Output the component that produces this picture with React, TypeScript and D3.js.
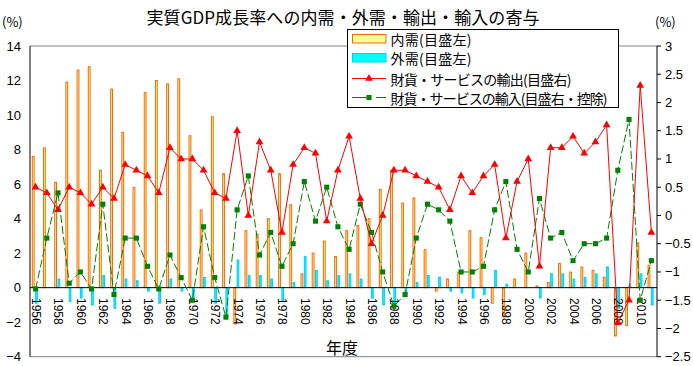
import React from 'react';
import * as d3 from 'd3';

const years = [
  1956, 1957, 1958, 1959, 1960, 1961, 1962, 1963, 1964, 1965,
  1966, 1967, 1968, 1969, 1970, 1971, 1972, 1973, 1974, 1975,
  1976, 1977, 1978, 1979, 1980, 1981, 1982, 1983, 1984, 1985,
  1986, 1987, 1988, 1989, 1990, 1991, 1992, 1993, 1994, 1995,
  1996, 1997, 1998, 1999, 2000, 2001, 2002, 2003, 2004, 2005,
  2006, 2007, 2008, 2009, 2010, 2011,
];

// 内需 (left axis)
const domestic = [
  7.6, 8.1, 6.1, 11.9, 12.6, 12.8, 6.8, 11.5, 9.0, 5.8,
  11.3, 12.0, 11.8, 12.1, 8.8, 4.5, 9.9, 6.6, -2.1, 3.3,
  3.1, 4.0, 6.6, 4.8, 0.8, 2.0, 2.7, 1.8, 3.3, 3.6,
  4.0, 5.7, 6.8, 4.9, 5.2, 2.2, -0.2, 0.5, 0.9, 3.3,
  2.9, -0.9, -1.7, 0.5, 2.0, 0.1, 0.3, 1.4, 0.9, 1.2,
  1.0, 0.6, -2.8, -2.2, 2.6, 1.3,
];

// 外需 (left axis)
const foreign = [
  -0.9, 0.0, 0.5, -0.8, -0.6, -1.0, 0.7, -1.2, 0.5, 0.4,
  -0.2, -0.9, 0.5, -0.2, -0.8, 0.6, -0.9, -1.6, 1.6, 0.7,
  0.7, 0.5, -0.8, 0.3, 1.8, 1.0, 0.4, 0.7, 0.8, 0.5,
  -0.6, -1.0, -1.2, -0.4, 0.3, 0.7, 0.6, -0.2, -0.3, -0.6,
  -0.4, 1.0, 0.2, 0.0, 0.0, -0.6, 0.8, 0.8, 0.5, 0.6,
  0.8, 1.2, -1.2, 0.2, 0.8, -1.0,
];

// 財貨・サービスの輸出 (right axis)
const exportsC = [
  0.5, 0.4, 0.1, 0.5, 0.4, 0.2, 0.5, 0.3, 0.9, 0.8,
  0.7, 0.4, 1.2, 1.0, 1.0, 0.8, 0.4, 0.3, 1.5, 0.0,
  1.3, 0.8, -0.3, 0.9, 1.2, 1.1, -0.1, 0.8, 1.4, 0.3,
  -0.5, 0.0, 0.8, 0.8, 0.7, 0.6, 0.5, 0.1, 0.7, 0.4,
  0.7, 0.9, -0.4, 0.6, 1.0, -0.9, 1.2, 1.2, 1.4, 1.1,
  1.3, 1.6, -1.9, -1.5, 2.3, -0.3,
];

// 財貨・サービスの輸入 (right axis, 控除)
const importsC = [
  -1.3, -0.4, 0.4, -1.2, -1.0, -1.3, 0.2, -1.4, -0.4, -0.4,
  -0.9, -1.3, -0.7, -1.1, -1.5, -0.2, -1.1, -1.8, 0.1, 0.7,
  -0.7, -0.3, -0.9, -0.5, 0.6, -0.1, 0.5, -0.2, -0.6, 0.2,
  -0.3, -1.0, -1.6, -1.4, -0.4, 0.2, 0.1, -0.1, -1.0, -1.0,
  -0.9, 0.1, 0.6, -0.6, -1.0, 0.3, -0.4, -0.3, -0.8, -0.5,
  -0.5, -0.4, 0.8, 1.7, -1.5, -0.8,
];

const leftTicks = [-4, -2, 0, 2, 4, 6, 8, 10, 12, 14];
const rightTicks = [-2.5, -2, -1.5, -1, -0.5, 0, 0.5, 1, 1.5, 2, 2.5, 3];
const yearLabels = [
  1956, 1958, 1960, 1962, 1964, 1966, 1968, 1970, 1972, 1974, 1976, 1978, 1980,
  1982, 1984, 1986, 1988, 1990, 1992, 1994, 1996, 1998, 2000, 2002, 2004, 2006,
  2008, 2010,
];

const title = '実質GDP成長率への内需・外需・輸出・輸入の寄与';
const legendLabels = [
  '内需(目盛左)',
  '外需(目盛左)',
  '財貨・サービスの輸出(目盛右)',
  '財貨・サービスの輸入(目盛右・控除)',
];
const legendTextWidths = [81, 81, 181, 217];

const NUM_FONT = '"Liberation Sans", Arial, sans-serif';
const JP_FONT = '"Noto Sans CJK JP", "Liberation Sans", sans-serif';

const fmt = (v: number) => String(v).replace('-', '\u2212');

export default function App() {
  const W = 693;
  const H = 366;
  const xL = 30;
  const xR = 657;
  const yTop = 46;
  const yBot = 356.7;

  const x = d3.scaleBand<number>().domain(years).range([xL, xR]).padding(0);
  const cx = (yr: number) => (x(yr) as number) + x.bandwidth() / 2;
  const yL = d3.scaleLinear().domain([-4, 14]).range([yBot, yTop]);
  const yR = d3.scaleLinear().domain([-2.5, 3]).range([yBot, yTop]);

  const lineGen = d3
    .line<number>()
    .x((_, i) => cx(years[i]))
    .y((d) => yR(d));

  const triPath = d3.symbol(d3.symbolTriangle, 26)() as string;
  const sqPath = d3.symbol(d3.symbolSquare, 26)() as string;

  const y0 = yL(0);

  const legX = 347.5;
  const legY = 29.5;
  const legRows = [39, 58, 78.5, 97.5];

  return (
    <div style={{ position: 'absolute', left: 0, top: 0 }}>
      <svg width={W} height={H} style={{ display: 'block', background: '#fff' }}>
        <rect x={0} y={0} width={W} height={H} fill="#fff" />
        {/* title */}
        <text x={146.5} y={16} textLength={393} lengthAdjust="spacing" dominantBaseline="central" fontFamily={JP_FONT} fontSize={17} fill="#000">
          {title}
        </text>
        <text x={2} y={21} dominantBaseline="central" fontFamily={JP_FONT} fontSize={13} fill="#000">(%)</text>
        <text x={655} y={21} dominantBaseline="central" fontFamily={JP_FONT} fontSize={13} fill="#000">(%)</text>

        {/* frame top and bottom */}
        <line x1={xL} x2={xR} y1={yTop} y2={yTop} stroke="#808080" strokeWidth={1} />
        <line x1={xL} x2={xR} y1={yBot} y2={yBot} stroke="#808080" strokeWidth={1} />

        {/* bars */}
        {years.map((yr, i) => {
          const c = cx(yr);
          const v = domestic[i];
          const top = Math.min(yL(v), y0);
          const h = Math.abs(yL(v) - y0);
          return (
            <rect key={'d' + yr} x={c - 3.3} y={top} width={1.8} height={h} fill="#FFFF99" stroke="#FF6600" strokeWidth={1} />
          );
        })}
        {years.map((yr, i) => {
          const c = cx(yr);
          const v = foreign[i];
          if (v === 0) return null;
          const top = Math.min(yL(v), y0);
          const h = Math.abs(yL(v) - y0);
          return (
            <rect key={'f' + yr} x={c} y={top} width={1.7} height={h} fill="#00FFFF" stroke="#00CCFF" strokeWidth={1} />
          );
        })}

        {/* zero line (category axis) */}
        <line x1={xL} x2={xR} y1={y0} y2={y0} stroke="#000" strokeWidth={1} />

        {/* year labels */}
        {yearLabels.map((yr) => (
          <text
            key={'yl' + yr}
            transform={`translate(${cx(yr) + 0.5},${298}) rotate(90)`}
            textAnchor="start"
            dominantBaseline="central"
            fontFamily={NUM_FONT}
            fontSize={12}
            fill="#000"
          >
            {yr}
          </text>
        ))}

        {/* left axis */}
        <line x1={xL} x2={xL} y1={yTop} y2={yBot} stroke="#000" strokeWidth={1} />
        {leftTicks.map((t) => (
          <text key={'lt' + t} x={21} y={yL(t)} textAnchor="end" dominantBaseline="central" fontFamily={NUM_FONT} fontSize={13} fill="#000">
            {fmt(t)}
          </text>
        ))}

        {/* right axis */}
        <line x1={xR} x2={xR} y1={yTop} y2={yBot} stroke="#000" strokeWidth={1} />
        {rightTicks.map((t) => (
          <g key={'rt' + t}>
            <line x1={xR} x2={xR + 4} y1={yR(t)} y2={yR(t)} stroke="#000" strokeWidth={1} />
            <text x={665} y={yR(t)} textAnchor="start" dominantBaseline="central" fontFamily={NUM_FONT} fontSize={13} fill="#000">
              {fmt(t)}
            </text>
          </g>
        ))}

        {/* imports line (dashed green) */}
        <path d={lineGen(importsC) as string} fill="none" stroke="#008000" strokeWidth={1} strokeDasharray="8,3" />
        {importsC.map((v, i) => (
          <path key={'im' + i} d={sqPath} transform={`translate(${cx(years[i])},${yR(v)})`} fill="#008000" />
        ))}

        {/* exports line (red) */}
        <path d={lineGen(exportsC) as string} fill="none" stroke="#FF0000" strokeWidth={1} />
        {exportsC.map((v, i) => (
          <path key={'ex' + i} d={triPath} transform={`translate(${cx(years[i])},${yR(v)})`} fill="#FF0000" />
        ))}

        {/* x axis title */}
        <text x={342} y={347} textAnchor="middle" dominantBaseline="central" fontFamily={JP_FONT} fontSize={16} fill="#000">
          年度
        </text>

        {/* legend */}
        <rect x={legX} y={legY} width={271} height={78} fill="#fff" stroke="#000" strokeWidth={1} />
        <rect x={352.5} y={legRows[0] - 4.5} width={33.5} height={8.5} fill="#FFFF99" stroke="#FF6600" strokeWidth={1} />
        <rect x={352.5} y={legRows[1] - 4.5} width={33.5} height={8.5} fill="#00FFFF" stroke="#00CCFF" strokeWidth={1} />
        <line x1={352} x2={386} y1={legRows[2]} y2={legRows[2]} stroke="#FF0000" strokeWidth={1} />
        <path d={triPath} transform={`translate(369,${legRows[2]})`} fill="#FF0000" />
        <line x1={352} x2={386} y1={legRows[3]} y2={legRows[3]} stroke="#008000" strokeWidth={1} strokeDasharray="15,9,10" />
        <path d={sqPath} transform={`translate(369,${legRows[3]})`} fill="#008000" />
        {legendLabels.map((t, i) => (
          <text key={'lg' + i} x={390.5} y={legRows[i]} textLength={legendTextWidths[i]} lengthAdjust="spacing" dominantBaseline="central" fontFamily={JP_FONT} fontSize={14} fill="#000">
            {t}
          </text>
        ))}
      </svg>
    </div>
  );
}
